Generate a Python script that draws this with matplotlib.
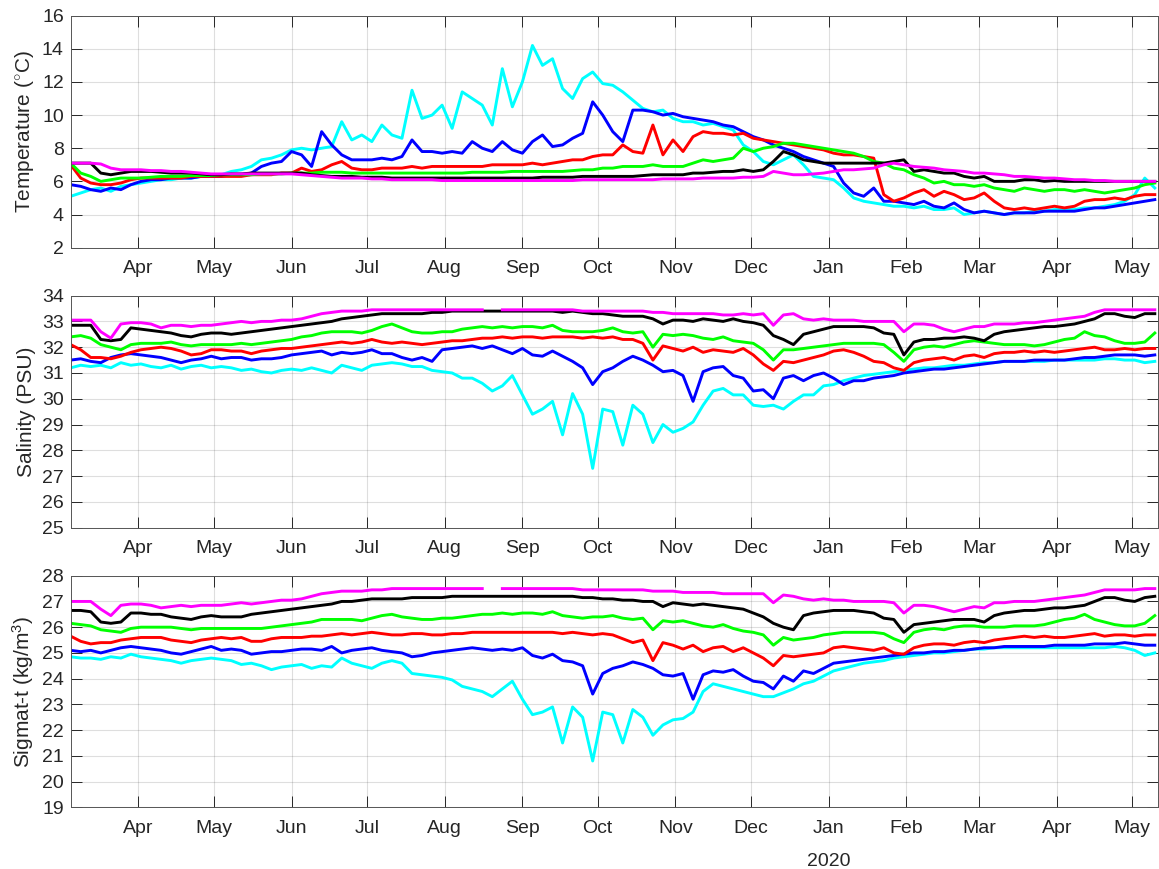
import numpy as np
import matplotlib
matplotlib.use("Agg")
import matplotlib.pyplot as plt
import matplotlib.dates as mdates

plt.rcParams['font.family'] = ['Liberation Sans', 'DejaVu Sans']
plt.rcParams['mathtext.fontset'] = 'custom'
plt.rcParams['mathtext.rm'] = 'Liberation Sans'
plt.rcParams['mathtext.it'] = 'Liberation Sans:italic'

nan = np.nan
# samples every 4 days starting 2019-03-05
start = np.datetime64('2019-03-05')
step_days = 4

# ---- temperature (deg C) ----
t_cyan = [5.1, 5.3, 5.5, 5.6, 5.4, 5.7, 5.8, 5.9, 6.0, 6.1,
          6.1, 6.2, 6.2, 6.3, 6.3, 6.4, 6.6, 6.7, 6.9, 7.3,
          7.4, 7.6, 7.9, 8.0, 7.9, 8.0, 8.1, 9.6, 8.5, 8.8,
          8.4, 9.4, 8.8, 8.6, 11.5, 9.8, 10.0, 10.6, 9.2, 11.4,
          11.0, 10.6, 9.4, 12.8, 10.5, 12.0, 14.2, 13.0, 13.4, 11.6,
          11.0, 12.2, 12.6, 11.9, 11.8, 11.4, 10.9, 10.4, 10.2, 10.3,
          9.8, 9.6, 9.6, 9.4, 9.5, 9.3, 9.1, 8.2, 7.8, 7.2,
          7.0, 7.3, 7.6, 7.0, 6.3, 6.2, 6.1, 5.6, 5.0, 4.8,
          4.7, 4.6, 4.5, 4.5, 4.4, 4.5, 4.3, 4.3, 4.4, 4.0,
          4.1, 4.2, 4.1, 4.0, 4.1, 4.1, 4.2, 4.2, 4.3, 4.3,
          4.3, 4.4, 4.4, 4.5, 4.6, 4.8, 5.2, 6.2, 5.6]
t_blue = [5.8, 5.7, 5.5, 5.4, 5.6, 5.5, 5.8, 6.0, 6.1, 6.1,
          6.2, 6.2, 6.2, 6.3, 6.3, 6.3, 6.4, 6.4, 6.5, 6.9,
          7.1, 7.2, 7.8, 7.6, 6.9, 9.0, 8.2, 7.6, 7.3, 7.3,
          7.3, 7.4, 7.3, 7.5, 8.5, 7.8, 7.8, 7.7, 7.8, 7.7,
          8.4, 8.0, 7.8, 8.4, 7.9, 7.7, 8.4, 8.8, 8.1, 8.2,
          8.6, 8.9, 10.8, 10.0, 9.0, 8.4, 10.3, 10.3, 10.2, 10.0,
          10.1, 9.9, 9.8, 9.7, 9.6, 9.4, 9.3, 9.0, 8.7, 8.5,
          8.2, 8.0, 7.8, 7.5, 7.3, 7.1, 6.9, 5.9, 5.3, 5.1,
          5.6, 4.8, 4.8, 4.7, 4.6, 4.8, 4.5, 4.4, 4.7, 4.3,
          4.1, 4.2, 4.1, 4.0, 4.1, 4.1, 4.1, 4.2, 4.2, 4.2,
          4.2, 4.3, 4.4, 4.4, 4.5, 4.6, 4.7, 4.8, 4.9]
t_red = [7.0, 6.2, 5.9, 5.8, 5.8, 5.9, 6.1, 6.2, 6.2, 6.2,
         6.2, 6.2, 6.3, 6.3, 6.3, 6.3, 6.3, 6.3, 6.4, 6.4,
         6.4, 6.5, 6.5, 6.8, 6.6, 6.7, 7.0, 7.2, 6.8, 6.7,
         6.7, 6.8, 6.8, 6.8, 6.9, 6.8, 6.9, 6.9, 6.9, 6.9,
         6.9, 6.9, 7.0, 7.0, 7.0, 7.0, 7.1, 7.0, 7.1, 7.2,
         7.3, 7.3, 7.5, 7.6, 7.6, 8.2, 7.8, 7.7, 9.4, 7.6,
         8.5, 7.8, 8.7, 9.0, 8.9, 8.9, 8.8, 8.9, 8.6, 8.5,
         8.4, 8.3, 8.2, 8.1, 8.0, 7.9, 7.7, 7.6, 7.6, 7.5,
         7.4, 5.2, 4.8, 5.0, 5.3, 5.5, 5.1, 5.4, 5.2, 4.9,
         5.0, 5.3, 4.8, 4.4, 4.3, 4.4, 4.3, 4.4, 4.5, 4.4,
         4.5, 4.8, 4.9, 4.9, 5.0, 4.9, 5.1, 5.2, 5.2]
t_green = [7.1, 6.5, 6.3, 6.0, 6.1, 6.2, 6.2, 6.2, 6.25, 6.3,
           6.3, 6.3, 6.35, 6.35, 6.35, 6.4, 6.4, 6.4, 6.4, 6.45,
           6.45, 6.45, 6.5, 6.5, 6.5, 6.55, 6.55, 6.55, 6.5, 6.5,
           6.5, 6.5, 6.5, 6.5, 6.5, 6.5, 6.5, 6.5, 6.5, 6.5,
           6.55, 6.55, 6.55, 6.55, 6.6, 6.6, 6.6, 6.6, 6.6, 6.6,
           6.65, 6.7, 6.7, 6.8, 6.8, 6.9, 6.9, 6.9, 7.0, 6.9,
           6.9, 6.9, 7.1, 7.3, 7.2, 7.3, 7.4, 8.0, 7.8, 8.0,
           8.1, 8.3, 8.3, 8.2, 8.1, 8.0, 7.9, 7.8, 7.7, 7.5,
           7.2, 7.1, 6.8, 6.7, 6.4, 6.2, 5.9, 6.0, 5.8, 5.8,
           5.7, 5.8, 5.6, 5.5, 5.4, 5.6, 5.5, 5.4, 5.5, 5.5,
           5.4, 5.5, 5.4, 5.3, 5.4, 5.5, 5.6, 5.8, 5.9]
t_black = [7.1, 7.1, 7.1, 6.5, 6.4, 6.5, 6.6, 6.6, 6.6, 6.55,
           6.5, 6.5, 6.5, 6.45, 6.4, 6.4, 6.45, 6.45, 6.5, 6.5,
           6.5, 6.5, 6.5, 6.5, 6.4, 6.35, 6.3, 6.3, 6.3, 6.25,
           6.25, 6.25, 6.2, 6.2, 6.2, 6.2, 6.2, 6.2, 6.2, 6.2,
           6.2, 6.2, 6.2, 6.2, 6.2, 6.2, 6.2, 6.25, 6.25, 6.25,
           6.25, 6.3, 6.3, 6.3, 6.3, 6.3, 6.3, 6.35, 6.4, 6.4,
           6.4, 6.4, 6.5, 6.5, 6.55, 6.6, 6.6, 6.7, 6.6, 6.7,
           7.2, 7.8, 7.6, 7.3, 7.2, 7.1, 7.1, 7.1, 7.1, 7.1,
           7.1, 7.1, 7.2, 7.3, 6.6, 6.7, 6.6, 6.5, 6.5, 6.3,
           6.2, 6.3, 6.0, 6.0, 6.0, 6.1, 6.1, 6.0, 6.05, 6.0,
           6.0, 6.0, 6.0, 6.0, 6.0, 6.0, 6.0, 6.0, 6.0]
t_magenta = [7.1, 7.1, 7.1, 7.05, 6.8, 6.7, 6.7, 6.7, 6.65, 6.65,
             6.6, 6.6, 6.55, 6.5, 6.45, 6.45, 6.45, 6.45, 6.45, 6.45,
             6.45, 6.45, 6.45, 6.4, 6.35, 6.3, 6.25, 6.2, 6.2, 6.2,
             6.15, 6.15, 6.1, 6.1, 6.1, 6.1, 6.1, 6.05, 6.05, 6.05,
             6.05, 6.05, 6.05, 6.05, 6.05, 6.05, 6.05, 6.05, 6.05, 6.05,
             6.05, 6.1, 6.1, 6.1, 6.1, 6.1, 6.1, 6.1, 6.1, 6.15,
             6.15, 6.15, 6.15, 6.2, 6.2, 6.2, 6.2, 6.25, 6.25, 6.3,
             6.6, 6.5, 6.4, 6.4, 6.45, 6.5, 6.6, 6.7, 6.7, 6.75,
             6.8, 7.0, 7.1, 7.0, 6.9, 6.85, 6.8, 6.7, 6.65, 6.6,
             6.5, 6.5, 6.45, 6.4, 6.3, 6.3, 6.25, 6.2, 6.2, 6.15,
             6.1, 6.1, 6.05, 6.05, 6.0, 6.0, 6.0, 6.0, 6.0]

# ---- salinity (PSU) ----
s_cyan = [31.2, 31.3, 31.25, 31.3, 31.2, 31.4, 31.3, 31.35, 31.25, 31.2,
          31.3, 31.15, 31.25, 31.3, 31.2, 31.25, 31.2, 31.1, 31.15, 31.05,
          31.0, 31.1, 31.15, 31.1, 31.2, 31.1, 31.0, 31.3, 31.2, 31.1,
          31.3, 31.35, 31.4, 31.35, 31.25, 31.25, 31.1, 31.05, 31.0, 30.8,
          30.8, 30.6, 30.3, 30.5, 30.9, 30.15, 29.4, 29.6, 29.9, 28.6,
          30.2, 29.4, 27.3, 29.6, 29.5, 28.2, 29.75, 29.4, 28.3, 29.0,
          28.7, 28.85, 29.1, 29.75, 30.3, 30.4, 30.15, 30.15, 29.75, 29.7,
          29.75, 29.6, 29.9, 30.15, 30.15, 30.5, 30.55, 30.7, 30.8, 30.9,
          30.95, 31.0, 31.05, 31.1, 31.15, 31.2, 31.2, 31.25, 31.3, 31.3,
          31.35, 31.4, 31.4, 31.45, 31.45, 31.45, 31.45, 31.45, 31.5, 31.5,
          31.5, 31.5, 31.5, 31.55, 31.55, 31.5, 31.5, 31.4, 31.45]
s_blue = [31.5, 31.55, 31.45, 31.4, 31.6, 31.7, 31.75, 31.7, 31.65, 31.6,
          31.5, 31.4, 31.5, 31.55, 31.65, 31.55, 31.6, 31.6, 31.5, 31.55,
          31.55, 31.6, 31.7, 31.75, 31.8, 31.85, 31.7, 31.8, 31.75, 31.8,
          31.9, 31.75, 31.75, 31.6, 31.5, 31.6, 31.45, 31.9, 31.95, 32.0,
          32.05, 31.95, 32.05, 31.9, 31.75, 31.95, 31.7, 31.65, 31.85, 31.65,
          31.45, 31.2, 30.55, 31.05, 31.2, 31.45, 31.65, 31.5, 31.3, 31.05,
          31.1, 30.9, 29.9, 31.05, 31.2, 31.25, 30.9, 30.8, 30.3, 30.35,
          30.0, 30.8, 30.9, 30.7, 30.9, 31.0, 30.8, 30.55, 30.7, 30.7,
          30.8, 30.85, 30.9, 31.0, 31.05, 31.1, 31.15, 31.15, 31.2, 31.25,
          31.3, 31.35, 31.4, 31.45, 31.45, 31.45, 31.5, 31.5, 31.5, 31.5,
          31.55, 31.6, 31.6, 31.65, 31.7, 31.7, 31.7, 31.65, 31.7]
s_red = [32.1, 31.9, 31.6, 31.6, 31.55, 31.65, 31.8, 31.9, 31.95, 32.0,
         31.95, 31.85, 31.7, 31.75, 31.9, 31.9, 31.85, 31.85, 31.75, 31.85,
         31.9, 31.95, 31.95, 32.0, 32.05, 32.1, 32.15, 32.2, 32.15, 32.2,
         32.3, 32.2, 32.15, 32.2, 32.15, 32.1, 32.15, 32.2, 32.25, 32.25,
         32.3, 32.35, 32.35, 32.4, 32.35, 32.4, 32.4, 32.35, 32.4, 32.4,
         32.4, 32.35, 32.4, 32.35, 32.4, 32.3, 32.3, 32.15, 31.5, 32.05,
         31.95, 31.85, 32.0, 31.8, 31.9, 31.85, 31.8, 31.95, 31.7, 31.35,
         31.1, 31.45, 31.4, 31.5, 31.6, 31.7, 31.85, 31.9, 31.8, 31.65,
         31.45, 31.4, 31.2, 31.1, 31.4, 31.5, 31.55, 31.6, 31.5, 31.65,
         31.7, 31.6, 31.75, 31.8, 31.8, 31.85, 31.8, 31.85, 31.8, 31.85,
         31.9, 31.95, 32.0, 31.9, 31.9, 31.95, 31.9, 31.95, 31.95]
s_green = [32.4, 32.45, 32.35, 32.1, 32.0, 31.9, 32.1, 32.15, 32.15, 32.15,
           32.2, 32.1, 32.05, 32.1, 32.1, 32.1, 32.1, 32.15, 32.1, 32.15,
           32.2, 32.25, 32.3, 32.4, 32.45, 32.55, 32.6, 32.6, 32.6, 32.55,
           32.65, 32.8, 32.9, 32.75, 32.6, 32.55, 32.55, 32.6, 32.6, 32.7,
           32.75, 32.8, 32.75, 32.8, 32.75, 32.8, 32.8, 32.75, 32.85, 32.65,
           32.6, 32.6, 32.6, 32.65, 32.75, 32.6, 32.55, 32.6, 32.0, 32.5,
           32.45, 32.5, 32.45, 32.35, 32.3, 32.4, 32.25, 32.2, 32.15, 31.9,
           31.5, 31.9, 31.9, 31.95, 32.0, 32.05, 32.1, 32.15, 32.15, 32.15,
           32.15, 32.1, 31.8, 31.45, 31.9, 32.0, 32.05, 32.0, 32.1, 32.2,
           32.25, 32.2, 32.15, 32.1, 32.1, 32.1, 32.05, 32.1, 32.2, 32.3,
           32.35, 32.6, 32.45, 32.4, 32.25, 32.15, 32.15, 32.2, 32.55]
s_black = [32.85, 32.85, 32.85, 32.3, 32.25, 32.3, 32.75, 32.7, 32.65, 32.6,
           32.55, 32.45, 32.4, 32.5, 32.55, 32.55, 32.5, 32.55, 32.6, 32.65,
           32.7, 32.75, 32.8, 32.85, 32.9, 32.95, 33.0, 33.1, 33.15, 33.2,
           33.25, 33.3, 33.3, 33.3, 33.3, 33.3, 33.35, 33.35, 33.4, 33.4,
           33.4, 33.4, 33.4, 33.4, 33.4, 33.4, 33.4, 33.4, 33.4, 33.35,
           33.4, 33.35, 33.3, 33.3, 33.25, 33.2, 33.2, 33.2, 33.1, 32.9,
           33.05, 33.05, 33.0, 33.1, 33.05, 33.0, 33.1, 33.0, 32.95, 32.85,
           32.45, 32.3, 32.1, 32.5, 32.6, 32.7, 32.8, 32.8, 32.8, 32.8,
           32.75, 32.55, 32.5, 31.7, 32.2, 32.3, 32.3, 32.35, 32.35, 32.4,
           32.35, 32.25, 32.5, 32.6, 32.65, 32.7, 32.75, 32.8, 32.8, 32.85,
           32.9, 33.0, 33.1, 33.3, 33.3, 33.2, 33.15, 33.3, 33.3]
s_magenta = [33.05, 33.05, 33.05, 32.6, 32.35, 32.9, 32.95, 32.95, 32.9, 32.75,
             32.85, 32.85, 32.8, 32.85, 32.85, 32.9, 32.95, 33.0, 32.95, 33.0,
             33.0, 33.05, 33.05, 33.1, 33.2, 33.3, 33.35, 33.4, 33.4, 33.4,
             33.45, 33.45, 33.45, 33.45, 33.45, 33.45, 33.45, 33.45, 33.45, 33.45,
             33.45, 33.45, nan, 33.45, 33.45, 33.45, 33.45, 33.45, 33.45, 33.45,
             33.45, 33.4, 33.4, 33.4, 33.4, 33.4, 33.4, 33.4, 33.35, 33.35,
             33.3, 33.3, 33.3, 33.3, 33.3, 33.25, 33.25, 33.3, 33.25, 33.3,
             32.85, 33.25, 33.3, 33.1, 33.05, 33.1, 33.05, 33.05, 33.05, 33.0,
             33.0, 33.0, 33.0, 32.6, 32.9, 32.9, 32.85, 32.7, 32.6, 32.7,
             32.8, 32.8, 32.9, 32.9, 32.9, 32.95, 32.95, 33.0, 33.05, 33.1,
             33.15, 33.2, 33.35, 33.45, 33.45, 33.45, 33.45, 33.45, 33.45]

# ---- sigma-t (kg/m3) ----
g_cyan = [24.85, 24.8, 24.8, 24.75, 24.85, 24.8, 24.95, 24.85, 24.8, 24.75,
          24.7, 24.6, 24.7, 24.75, 24.8, 24.75, 24.7, 24.55, 24.6, 24.5,
          24.35, 24.45, 24.5, 24.55, 24.4, 24.5, 24.45, 24.8, 24.6, 24.5,
          24.4, 24.6, 24.7, 24.6, 24.2, 24.15, 24.1, 24.05, 23.95, 23.7,
          23.6, 23.5, 23.3, 23.6, 23.9, 23.2, 22.6, 22.7, 22.9, 21.5,
          22.9, 22.5, 20.8, 22.7, 22.6, 21.5, 22.8, 22.5, 21.8, 22.2,
          22.4, 22.45, 22.7, 23.5, 23.8, 23.7, 23.6, 23.5, 23.4, 23.3,
          23.3, 23.45, 23.6, 23.8, 23.9, 24.1, 24.3, 24.4, 24.5, 24.6,
          24.65, 24.7, 24.8, 24.85, 24.9, 24.95, 25.0, 25.0, 25.05, 25.1,
          25.15, 25.15, 25.2, 25.2, 25.2, 25.2, 25.2, 25.2, 25.2, 25.2,
          25.2, 25.2, 25.2, 25.2, 25.25, 25.2, 25.1, 24.9, 25.0]
g_blue = [25.1, 25.05, 25.1, 25.0, 25.1, 25.2, 25.25, 25.2, 25.15, 25.1,
          25.0, 24.95, 25.05, 25.15, 25.25, 25.1, 25.15, 25.1, 24.95, 25.0,
          25.05, 25.05, 25.1, 25.15, 25.15, 25.1, 25.25, 25.0, 25.1, 25.15,
          25.2, 25.1, 25.05, 25.0, 24.85, 24.9, 25.0, 25.05, 25.1, 25.15,
          25.2, 25.15, 25.1, 25.15, 25.1, 25.2, 24.9, 24.8, 24.95, 24.7,
          24.65, 24.5, 23.4, 24.2, 24.4, 24.5, 24.65, 24.55, 24.4, 24.15,
          24.1, 24.2, 23.2, 24.15, 24.3, 24.25, 24.35, 24.1, 23.9, 23.85,
          23.6, 24.1, 23.9, 24.3, 24.2, 24.4, 24.6, 24.65, 24.7, 24.75,
          24.8, 24.85, 24.9, 24.95, 25.0, 25.0, 25.05, 25.05, 25.1, 25.1,
          25.15, 25.2, 25.2, 25.25, 25.25, 25.25, 25.25, 25.25, 25.3, 25.3,
          25.3, 25.3, 25.35, 25.35, 25.35, 25.4, 25.35, 25.3, 25.3]
g_red = [25.65, 25.45, 25.35, 25.4, 25.4, 25.5, 25.55, 25.6, 25.6, 25.6,
         25.5, 25.45, 25.4, 25.5, 25.55, 25.6, 25.55, 25.6, 25.45, 25.45,
         25.55, 25.6, 25.6, 25.6, 25.65, 25.65, 25.7, 25.75, 25.7, 25.75,
         25.8, 25.75, 25.7, 25.7, 25.75, 25.75, 25.7, 25.7, 25.75, 25.75,
         25.8, 25.8, 25.8, 25.8, 25.8, 25.8, 25.8, 25.8, 25.8, 25.75,
         25.8, 25.75, 25.7, 25.75, 25.7, 25.55, 25.4, 25.5, 24.7, 25.4,
         25.3, 25.15, 25.3, 25.05, 25.2, 25.25, 25.05, 25.2, 25.0, 24.8,
         24.5, 24.9, 24.85, 24.9, 24.95, 25.0, 25.2, 25.25, 25.2, 25.15,
         25.1, 25.2, 25.0, 24.95, 25.2, 25.3, 25.35, 25.35, 25.3, 25.4,
         25.45, 25.4, 25.5, 25.55, 25.6, 25.65, 25.6, 25.65, 25.6, 25.6,
         25.65, 25.7, 25.75, 25.65, 25.7, 25.7, 25.65, 25.7, 25.7]
g_green = [26.15, 26.1, 26.05, 25.9, 25.85, 25.8, 25.95, 26.0, 26.0, 26.0,
           26.0, 25.95, 25.9, 25.95, 25.95, 25.95, 25.95, 25.95, 25.95, 25.95,
           26.0, 26.05, 26.1, 26.15, 26.2, 26.3, 26.3, 26.3, 26.3, 26.25,
           26.35, 26.45, 26.5, 26.4, 26.35, 26.3, 26.3, 26.35, 26.35, 26.4,
           26.45, 26.5, 26.5, 26.55, 26.5, 26.55, 26.55, 26.5, 26.6, 26.45,
           26.4, 26.35, 26.4, 26.4, 26.45, 26.35, 26.3, 26.35, 25.9, 26.25,
           26.2, 26.25, 26.15, 26.05, 26.0, 26.1, 25.95, 25.85, 25.8, 25.7,
           25.3, 25.6, 25.5, 25.55, 25.6, 25.7, 25.75, 25.8, 25.8, 25.8,
           25.8, 25.75, 25.55, 25.4, 25.8, 25.9, 25.95, 25.9, 26.0, 26.05,
           26.05, 26.0, 26.0, 26.0, 26.05, 26.05, 26.05, 26.1, 26.2, 26.3,
           26.35, 26.5, 26.3, 26.2, 26.1, 26.05, 26.05, 26.15, 26.45]
g_black = [26.65, 26.65, 26.6, 26.2, 26.15, 26.2, 26.55, 26.55, 26.5, 26.5,
           26.4, 26.35, 26.3, 26.4, 26.45, 26.4, 26.4, 26.4, 26.5, 26.55,
           26.6, 26.65, 26.7, 26.75, 26.8, 26.85, 26.9, 27.0, 27.0, 27.05,
           27.1, 27.1, 27.1, 27.1, 27.15, 27.15, 27.15, 27.15, 27.2, 27.2,
           27.2, 27.2, 27.2, 27.2, 27.2, 27.2, 27.2, 27.2, 27.2, 27.2,
           27.2, 27.15, 27.15, 27.1, 27.1, 27.05, 27.05, 27.0, 27.0, 26.8,
           26.95, 26.9, 26.85, 26.9, 26.85, 26.8, 26.75, 26.7, 26.55, 26.4,
           26.15, 26.0, 25.9, 26.45, 26.55, 26.6, 26.65, 26.65, 26.65, 26.6,
           26.55, 26.35, 26.3, 25.8, 26.1, 26.15, 26.2, 26.25, 26.3, 26.3,
           26.3, 26.2, 26.45, 26.55, 26.6, 26.65, 26.65, 26.7, 26.75, 26.75,
           26.8, 26.85, 27.0, 27.15, 27.15, 27.05, 27.0, 27.15, 27.2]
g_magenta = [27.0, 27.0, 27.0, 26.7, 26.45, 26.85, 26.9, 26.9, 26.85, 26.75,
             26.8, 26.85, 26.8, 26.85, 26.85, 26.85, 26.9, 26.95, 26.9, 26.95,
             27.0, 27.05, 27.05, 27.1, 27.2, 27.3, 27.35, 27.4, 27.4, 27.4,
             27.45, 27.45, 27.5, 27.5, 27.5, 27.5, 27.5, 27.5, 27.5, 27.5,
             27.5, 27.5, nan, 27.5, 27.5, 27.5, 27.5, 27.5, 27.5, 27.5,
             27.5, 27.45, 27.45, 27.45, 27.45, 27.45, 27.45, 27.45, 27.4, 27.4,
             27.4, 27.35, 27.35, 27.35, 27.35, 27.3, 27.3, 27.3, 27.3, 27.3,
             26.95, 27.25, 27.2, 27.1, 27.05, 27.1, 27.05, 27.05, 27.0, 27.0,
             27.0, 27.0, 26.95, 26.55, 26.85, 26.85, 26.8, 26.7, 26.6, 26.7,
             26.8, 26.75, 26.95, 26.95, 27.0, 27.0, 27.0, 27.05, 27.1, 27.15,
             27.2, 27.25, 27.35, 27.45, 27.45, 27.45, 27.45, 27.5, 27.5]

colors = ['#00ffff', '#0000ff', '#ff0000', '#00ff00', '#000000', '#ff00ff']

panels = [
    ([t_cyan, t_blue, t_red, t_green, t_black, t_magenta],
     (2, 16), np.arange(2, 17, 2), 'Temperature ($^{\\circ}$C)',
     [0.061, 0.715, 0.938, 0.267]),
    ([s_cyan, s_blue, s_red, s_green, s_black, s_magenta],
     (25, 34), np.arange(25, 35, 1), 'Salinity (PSU)',
     [0.061, 0.3928, 0.938, 0.267]),
    ([g_cyan, g_blue, g_red, g_green, g_black, g_magenta],
     (19, 28), np.arange(19, 29, 1), 'Sigmat-t (kg/m$^3$)',
     [0.061, 0.071, 0.938, 0.2665]),
]

fig = plt.figure(figsize=(11.59, 8.69), dpi=100)
txt = '#262626'

axes = []
for series, ylim, yticks, ylabel, pos in panels:
    ax = fig.add_axes(pos)
    for vals, c in zip(series, colors):
        x = start + np.arange(len(vals)) * np.timedelta64(step_days, 'D')
        ax.plot(x, vals, color=c, lw=2.1, solid_joinstyle='round')
    ax.set_xlim(np.datetime64('2019-03-05'), np.datetime64('2020-05-11T05:00'))
    ax.set_ylim(*ylim)
    ax.set_yticks(yticks)
    ax.xaxis.set_major_locator(mdates.MonthLocator())
    ax.xaxis.set_major_formatter(mdates.DateFormatter('%b'))
    ax.grid(True, color=txt, alpha=0.15, lw=0.8)
    ax.tick_params(direction='in', length=8, width=0.7, top=True, right=True,
                   labelsize=14, color=txt, labelcolor=txt)
    ax.tick_params(axis='x', pad=9)
    ax.tick_params(axis='y', pad=5)
    for sp in ax.spines.values():
        sp.set_color('#555555')
        sp.set_linewidth(0.7)
    ax.set_ylabel(ylabel, fontsize=15, color=txt, labelpad=4)
    axes.append(ax)

axes[2].annotate('2020', xy=(np.datetime64('2020-01-01'), 0),
                 xycoords=('data', 'axes fraction'), xytext=(0, -42.5),
                 textcoords='offset points', ha='center', va='baseline',
                 fontsize=14, color=txt)

fig.savefig('out.png', dpi=100)
